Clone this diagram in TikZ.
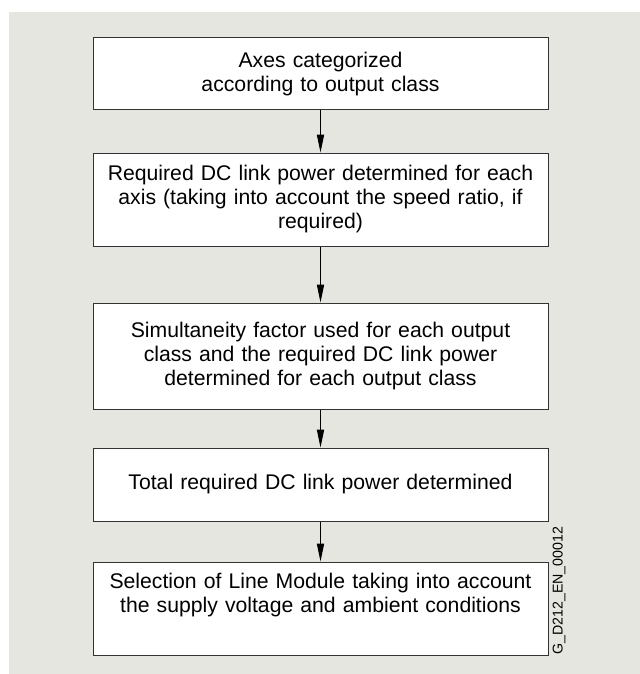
\documentclass[tikz,border=0pt]{standalone}
\usepackage{fontspec}
\setmainfont{Liberation Sans}
\usepackage{tikz}
\usetikzlibrary{arrows.meta,positioning}
\definecolor{dg-paper}{HTML}{E6E6E1}
\definecolor{dg-frame}{HTML}{333333}

\tikzset{
  stepbox/.style={draw=dg-frame,fill=white,line width=0.5pt,inner sep=0pt,
    text width=227.5pt,align=center,font=\fontsize{10.6}{12}\selectfont},
  flow/.style={->,line width=0.5pt,black}
}

\begin{document}
\begin{tikzpicture}[x=0.5pt,y=-0.5pt,>={Triangle[length=9pt,width=3.6pt]}]
  % Rahmen und Hintergrund
  \useasboundingbox (0,0) rectangle (640,674);
  \fill[dg-paper] (9,12) rectangle (640,674);

  % Ablaufschritte
  \node[stepbox,minimum height=36pt] (axes) at (320.5,74)
    {Axes categorized\\according to output class};
  \node[stepbox,minimum height=46.5pt] (axispower) at (320.5,199.5)
    {Required DC link power determined for each\\axis (taking into account the speed ratio, if\\required)};
  \node[stepbox,minimum height=53pt] (simfactor) at (320.5,356)
    {Simultaneity factor used for each output\\class and the required DC link power\\determined for each output class};
  \node[stepbox,minimum height=36.5pt] (total) at (320.5,484.5)
    {Total required DC link power determined};
  \node[stepbox,minimum height=46.5pt] (linemodule) at (320.5,608.5)
    {Selection of Line Module taking into account\\the supply voltage and ambient conditions\\\strut};

  % Pfeile
  \draw[flow] (axes) -- (axispower);
  \draw[flow] (axispower) -- (simfactor);
  \draw[flow] (simfactor) -- (total);
  \draw[flow] (total) -- (linemodule);

  % Bildnummer
  \node[rotate=90,anchor=west,inner sep=0pt,font=\fontsize{7.1}{8}\selectfont] (figid)
    at (559,655) {G\_D212\_EN\_00012};
\end{tikzpicture}
\end{document}
